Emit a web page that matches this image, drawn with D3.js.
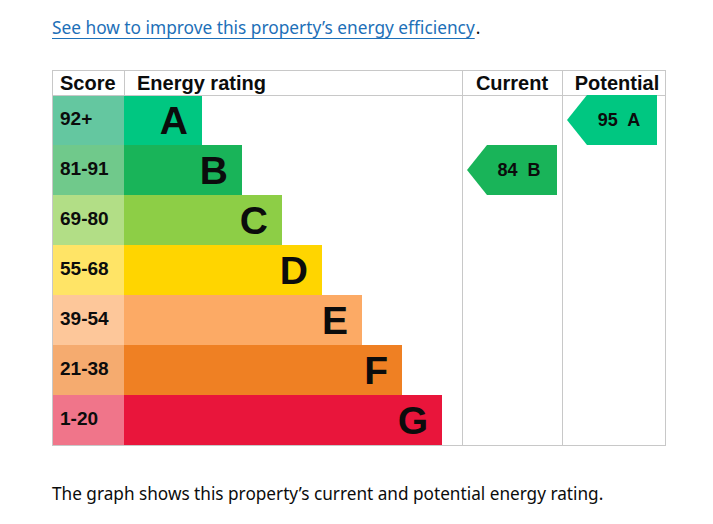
<!DOCTYPE html>
<html><head><meta charset="utf-8">
<script src="https://cdn.jsdelivr.net/npm/d3@7"></script>
<style>
html,body{margin:0;padding:0;background:#fff;}
svg{display:block;}
</style></head>
<body>
<script>
const ratings = ["A","B","C","D","E","F","G"];
const scoreRanges = ["92+","81-91","69-80","55-68","39-54","21-38","1-20"];
const bandMin = [92,81,69,55,39,21,1];
const barColors = ["#00c781","#19b459","#8dce46","#ffd500","#fcaa65","#ef8023","#e9153b"];
const scoreColors = ["#64c7a0","#70c98b","#b2de86","#ffe466","#fdc79a","#f5ab6f","#f0758a"];
const currentScore = 84;
const potentialScore = 95;
const headers = ["Score","Energy rating","Current","Potential"];

const W = 713, H = 524;
const svg = d3.select("body").append("svg").attr("width",W).attr("height",H);

const cLeft = 52, cRight = 666, cTop = 70, headH = 25, rowH = 50;
const scoreRight = 124, curLeft = 462, potLeft = 562;
const y = d3.scaleBand().domain(ratings).range([cTop+headH, cTop+headH+rowH*ratings.length]).padding(0);
const x = d3.scaleLinear().domain([0,7]).range([scoreRight+38, scoreRight+38+280]);
const cBottom = cTop+headH+rowH*ratings.length;
const grid = "#c8c8c8";
const arial = "'Liberation Sans', Arial, sans-serif";
const body = "'Noto Sans', sans-serif";

function bandOf(s){ return ratings[bandMin.findIndex(m => s >= m)]; }

// top link
const link = svg.append("text").attr("x",cLeft).attr("y",34)
  .attr("font-family",body).attr("font-size",17.3).attr("fill","#1d70b8")
  .text("See how to improve this property’s energy efficiency");
const linkW = link.node().getComputedTextLength();
svg.append("line").attr("x1",cLeft).attr("x2",cLeft+linkW).attr("y1",38.5).attr("y2",38.5).attr("stroke","#1d70b8").attr("stroke-width",1);
svg.append("text").attr("x",cLeft+linkW+1).attr("y",34)
  .attr("font-family",body).attr("font-size",17.3).attr("fill","#0b0c0c").text(".");

// rows
const rows = svg.append("g");
ratings.forEach((r,i) => {
  rows.append("rect").attr("x",cLeft).attr("y",y(r)).attr("width",scoreRight-cLeft).attr("height",y.bandwidth()).attr("fill",scoreColors[i]);
  rows.append("rect").attr("x",scoreRight).attr("y",y(r)).attr("width",x(i+1)-scoreRight).attr("height",y.bandwidth()).attr("fill",barColors[i]);
  rows.append("text").attr("x",cLeft+8).attr("y",y(r)+30)
    .attr("font-family",arial).attr("font-weight","bold").attr("font-size",19).attr("fill","#0b0c0c")
    .text(scoreRanges[i]);
  rows.append("text").attr("x",x(i+1)-14).attr("y",y(r)+39).attr("text-anchor","end")
    .attr("font-family",arial).attr("font-weight","bold").attr("font-size",39).attr("fill","#0b0c0c")
    .text(r);
});

// grid
const g = svg.append("g").attr("stroke",grid).attr("stroke-width",1).attr("fill","none");
g.append("rect").attr("x",cLeft+0.5).attr("y",cTop+0.5).attr("width",cRight-cLeft-1).attr("height",cBottom-cTop);
g.append("line").attr("x1",cLeft).attr("x2",cRight).attr("y1",cTop+headH+0.5).attr("y2",cTop+headH+0.5);
[scoreRight, curLeft, potLeft].forEach(v => g.append("line").attr("x1",v+0.5).attr("x2",v+0.5).attr("y1",cTop).attr("y2",v===scoreRight?cTop+headH:cBottom));

// headers
const hx = [cLeft+8, scoreRight+13, (curLeft+potLeft)/2, (potLeft+cRight)/2+3];
const ha = ["start","start","middle","middle"];
headers.forEach((h,i) => svg.append("text").attr("x",hx[i]).attr("y",cTop+20).attr("text-anchor",ha[i])
  .attr("font-family",arial).attr("font-weight","bold").attr("font-size",20).attr("fill","#0b0c0c").text(h));

// arrows
function arrow(score, colLeft, colRight){
  const r = bandOf(score), i = ratings.indexOf(r);
  const y0 = y(r), y1 = y0+y.bandwidth(), ym = (y0+y1)/2;
  const tip = colLeft+5, shoulder = tip+20, rx = colRight-5;
  svg.append("path").attr("d",`M${tip},${ym}L${shoulder},${y0}L${rx},${y0}L${rx},${y1}L${shoulder},${y1}Z`).attr("fill",barColors[i]);
  svg.append("text").attr("x",rx-38).attr("y",ym+6).attr("text-anchor","middle")
    .attr("font-family",arial).attr("font-weight","bold").attr("font-size",18).attr("fill","#0b0c0c")
    .style("white-space","pre").text(`${score}  ${r}`);
}
arrow(currentScore, curLeft, potLeft);
arrow(potentialScore, potLeft, cRight-4);

// bottom text
svg.append("text").attr("x",cLeft).attr("y",500)
  .attr("font-family",body).attr("font-size",17.2).attr("fill","#0b0c0c")
  .text("The graph shows this property’s current and potential energy rating.");
</script>
</body></html>
